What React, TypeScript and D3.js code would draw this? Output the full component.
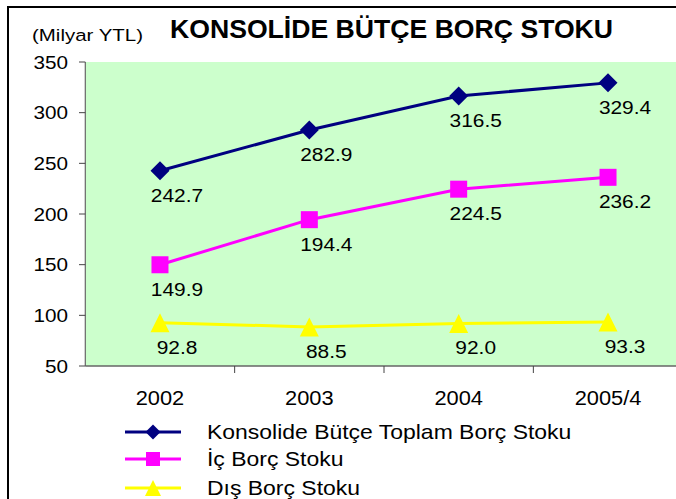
import React from "react";
import * as d3 from "d3";

const categories = ["2002", "2003", "2004", "2005/4"];
const totalDebt = [242.7, 282.9, 316.5, 329.4];
const domesticDebt = [149.9, 194.4, 224.5, 236.2];
const foreignDebt = [92.8, 88.5, 92.0, 93.3];
const yTicks = [50, 100, 150, 200, 250, 300, 350];
const seriesNames = ["Konsolide Bütçe Toplam Borç Stoku", "İç Borç Stoku", "Dış Borç Stoku"];
const title = "KONSOLİDE BÜTÇE BORÇ STOKU";
const unitLabel = "(Milyar YTL)";

const W = 676;
const H = 499;
const FONT = "Arial, 'Liberation Sans', sans-serif";

const plot = { left: 85.3, right: 682.7, top: 62, bottom: 366 };

const x = d3.scaleBand<string>().domain(categories).range([plot.left, plot.right]).padding(0);
const y = d3.scaleLinear().domain([50, 350]).range([plot.bottom, plot.top]);
const px = (c: string) => (x(c) as number) + x.bandwidth() / 2;

type Marker = "diamond" | "square" | "triangle";

const series: { name: string; values: number[]; color: string; marker: Marker }[] = [
  { name: seriesNames[0], values: totalDebt, color: "#000080", marker: "diamond" },
  { name: seriesNames[1], values: domesticDebt, color: "#FF00FF", marker: "square" },
  { name: seriesNames[2], values: foreignDebt, color: "#FFFF00", marker: "triangle" },
];

function T({ x: tx, y: ty, size, sx = 1, anchor = "start", weight = "normal", children }: any) {
  return (
    <text
      transform={`translate(${tx},${ty}) scale(${sx},1)`}
      textAnchor={anchor}
      fontFamily={FONT}
      fontSize={size}
      fontWeight={weight}
      fill="#000"
    >
      {children}
    </text>
  );
}

function MarkerShape({ type, cx, cy, r, color }: { type: Marker; cx: number; cy: number; r: number; color: string }) {
  if (type === "diamond") {
    return <path d={`M${cx},${cy - r}L${cx + r},${cy}L${cx},${cy + r}L${cx - r},${cy}Z`} fill={color} />;
  }
  if (type === "square") {
    return <rect x={cx - r} y={cy - r} width={2 * r} height={2 * r} fill={color} />;
  }
  return <path d={`M${cx},${cy - r}L${cx + r},${cy + r}L${cx - r},${cy + r}Z`} fill={color} />;
}

export default function App() {
  const line = d3
    .line<number>()
    .x((_, i) => px(categories[i]))
    .y((v) => y(v));

  const markerSize: Record<Marker, number> = { diamond: 9.5, square: 8.5, triangle: 9.5 };
  const legendSize: Record<Marker, number> = { diamond: 7.5, square: 7, triangle: 8 };
  const legendRows = [432, 459, 488];

  return (
    <svg width={W} height={H} style={{ position: "absolute", left: 0, top: 0, background: "#fff" }}>
      <rect x={0} y={0} width={W} height={H} fill="#fff" />
      {/* outer border */}
      <rect x={8} y={7} width={W + 20} height={H + 20} fill="none" stroke="#000" strokeWidth={2} />

      {/* titles */}
      <T x={32} y={40.5} size={16.5} sx={1.24}>{unitLabel}</T>
      <T x={170} y={38} size={25} sx={1.065} weight="bold">{title}</T>

      {/* plot area */}
      <rect x={plot.left} y={plot.top} width={plot.right - plot.left} height={plot.bottom - plot.top} fill="#CCFFCC" />
      <line x1={plot.left} x2={plot.left} y1={plot.top} y2={plot.bottom} stroke="#666" strokeWidth={1.2} />
      <line x1={plot.left} x2={plot.right} y1={plot.bottom} y2={plot.bottom} stroke="#666" strokeWidth={1.5} />

      {/* y axis ticks */}
      {yTicks.map((t) => (
        <g key={t}>
          <line x1={79} x2={plot.left} y1={y(t)} y2={y(t)} stroke="#444" strokeWidth={1} />
          <T x={68} y={y(t) + 6.5} size={18} sx={1.15} anchor="end">{t}</T>
        </g>
      ))}

      {/* x axis ticks */}
      {categories.map((c, i) => (
        <g key={c}>
          {i > 0 && (
            <line x1={x(c) as number} x2={x(c) as number} y1={plot.bottom} y2={plot.bottom + 7} stroke="#444" strokeWidth={1} />
          )}
          <T x={px(c)} y={405} size={19.5} sx={1.12} anchor="middle">{c}</T>
        </g>
      ))}

      {/* series */}
      {series.map((s) => (
        <g key={s.name}>
          <path d={line(s.values) as string} fill="none" stroke={s.color} strokeWidth={3} />
          {s.values.map((v, i) => (
            <MarkerShape key={i} type={s.marker} cx={px(categories[i])} cy={y(v)} r={markerSize[s.marker]} color={s.color} />
          ))}
          {s.values.map((v, i) => (
            <T key={"l" + i} x={px(categories[i]) + 17} y={y(v) + 31} size={19} sx={1.1} anchor="middle">
              {v.toFixed(1)}
            </T>
          ))}
        </g>
      ))}

      {/* legend */}
      {series.map((s, i) => (
        <g key={"leg" + i}>
          <line x1={125} x2={181} y1={legendRows[i]} y2={legendRows[i]} stroke={s.color} strokeWidth={3} />
          <MarkerShape type={s.marker} cx={153} cy={legendRows[i]} r={legendSize[s.marker]} color={s.color} />
          <T x={207} y={legendRows[i] + 6.5} size={20.5} sx={1.12}>{s.name}</T>
        </g>
      ))}
    </svg>
  );
}
